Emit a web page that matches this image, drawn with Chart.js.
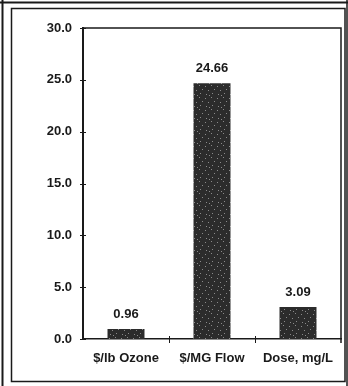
<!DOCTYPE html>
<html>
<head>
<meta charset="utf-8">
<script src="https://cdn.jsdelivr.net/npm/chart.js@4"></script>
<style>
    html, body { margin: 0; padding: 0; background: #fff; }
    #wrap { width: 348px; height: 386px; }
</style>
</head>
<body>
<div id="wrap"><canvas id="costChart" width="348" height="386"></canvas></div>
<script>
// Chart data
const categories = ['$/lb Ozone', '$/MG Flow', 'Dose, mg/L'];
const values = [0.96, 24.66, 3.09];
const yTicks = [0, 5, 10, 15, 20, 25, 30];

const FONT = '"Liberation Sans", Arial, sans-serif';

// Speckled dark fill, like the scanned bars (fixed dot positions)
function speckle() {
    const c = document.createElement('canvas');
    c.width = 12; c.height = 12;
    const g = c.getContext('2d');
    g.fillStyle = '#2c2c2c';
    g.fillRect(0, 0, 12, 12);
    g.fillStyle = '#8a8a8a';
    [[1, 2], [7, 1], [4, 6], [10, 5], [2, 10], [8, 9], [5, 11]].forEach(p => g.fillRect(p[0], p[1], 1, 1));
    return g.createPattern(c, 'repeat');
}

// Frame, plot box, cross ticks and value labels
const decor = {
    id: 'decor',
    afterDraw(chart) {
        const ctx = chart.ctx;
        const a = chart.chartArea;
        const x = chart.scales.x, y = chart.scales.y;
        ctx.save();
        ctx.strokeStyle = '#1a1a1a';

        // page frame
        ctx.lineWidth = 2;
        ctx.beginPath();
        ctx.moveTo(2.5, 0); ctx.lineTo(2.5, 386);
        ctx.moveTo(0, 2.5); ctx.lineTo(348, 2.5);
        ctx.stroke();
        ctx.lineWidth = 1.5;
        ctx.strokeRect(11.5, 8.5, 333.5, 373);
        ctx.beginPath();
        ctx.moveTo(347, 0); ctx.lineTo(347, 386);
        ctx.stroke();

        // plot box top/right
        ctx.lineWidth = 1.5;
        ctx.beginPath();
        ctx.moveTo(a.left, a.top); ctx.lineTo(a.right, a.top); ctx.lineTo(a.right, a.bottom + 4);
        ctx.stroke();

        // y ticks crossing the axis
        ctx.lineWidth = 1;
        ctx.beginPath();
        yTicks.forEach(v => {
            const py = Math.round(y.getPixelForValue(v)) + 0.5;
            ctx.moveTo(a.left - 3, py); ctx.lineTo(a.left + 3, py);
        });
        // x ticks between categories
        for (let i = 1; i < categories.length; i++) {
            const px = Math.round((x.getPixelForValue(i - 1) + x.getPixelForValue(i)) / 2) + 0.5;
            ctx.moveTo(px, a.bottom - 3); ctx.lineTo(px, a.bottom + 4);
        }
        ctx.stroke();

        // value labels
        ctx.fillStyle = '#1a1a1a';
        ctx.font = 'bold 13px ' + FONT;
        ctx.textAlign = 'center';
        ctx.textBaseline = 'bottom';
        chart.getDatasetMeta(0).data.forEach((bar, i) => {
            ctx.fillText(values[i].toFixed(2), bar.x, bar.y - 8);
        });
        ctx.restore();
    }
};

const ctx = document.getElementById('costChart').getContext('2d');
new Chart(ctx, {
    type: 'bar',
    data: {
        labels: categories,
        datasets: [{
            data: values,
            backgroundColor: speckle(),
            borderWidth: 0,
            categoryPercentage: 1,
            barPercentage: 0.43
        }]
    },
    options: {
        responsive: false,
        animation: false,
        layout: { padding: { top: 28, right: 7, left: 0, bottom: 0 } },
        plugins: {
            legend: { display: false },
            tooltip: { enabled: false }
        },
        scales: {
            x: {
                grid: { display: false, drawTicks: false },
                border: { color: '#1a1a1a', width: 1.5 },
                ticks: {
                    color: '#1a1a1a',
                    padding: 12,
                    font: { family: FONT, size: 13, weight: 'bold' },
                    maxRotation: 0
                },
                afterFit(scale) { scale.height = 47; }
            },
            y: {
                min: 0,
                max: 30,
                grid: { display: false, drawTicks: false },
                border: { color: '#1a1a1a', width: 2 },
                afterBuildTicks(scale) { scale.ticks = yTicks.map(v => ({ value: v })); },
                ticks: {
                    color: '#1a1a1a',
                    padding: 11,
                    font: { family: FONT, size: 13, weight: 'bold' },
                    callback: v => v.toFixed(1)
                },
                afterFit(scale) { scale.width = 83; }
            }
        }
    },
    plugins: [decor]
});
</script>
</body>
</html>
